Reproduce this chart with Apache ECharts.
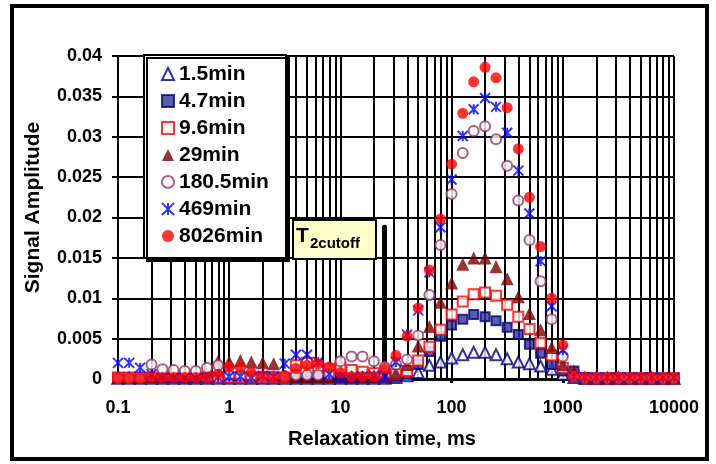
<!DOCTYPE html>
<html>
<head>
<meta charset="utf-8">
<script src="https://cdn.jsdelivr.net/npm/echarts@6/dist/echarts.min.js"></script>
<style>
  html, body { margin: 0; padding: 0; background: #fff; }
  #chart { width: 716px; height: 464px; }
</style>
</head>
<body>
<div id="chart"></div>
<script>
  // relaxation times, ms (10 points per decade)
  const relaxTimes = [
    0.1, 0.126, 0.158, 0.2, 0.251, 0.316, 0.398, 0.501, 0.631, 0.794,
    1, 1.26, 1.58, 2, 2.51, 3.16, 3.98, 5.01, 6.31, 7.94,
    10, 12.6, 15.8, 20, 25.1, 31.6, 39.8, 50.1, 63.1, 79.4,
    100, 126, 158, 200, 251, 316, 398, 501, 631, 794,
    1000, 1260, 1580, 2000, 2510, 3160, 3980, 5010, 6310, 7940, 10000,
  ]

  const amp1_5 = [
    0.0001, 0.0001, 0.0001, 0.0001, 0.0001, 0.0001, 0.0001, 0.0001, 0.0001, 0.0001,
    0.0001, 0.0001, 0.0001, 0.0001, 0.0001, 0.0001, 0.0001, 0.0001, 0.0001, 0.0001,
    0.0001, 0.0001, 0.0001, 0.0001, 0.0001, 0.0002, 0.0004, 0.0008, 0.0017, 0.0021,
    0.0026, 0.003, 0.0033, 0.0033, 0.003, 0.0025, 0.0021, 0.0019, 0.0016, 0.0012,
    0.0006, 0.0002, 0.0001, 0.0001, 0.0001, 0.0001, 0.0001, 0.0001, 0.0001, 0.0001, 0.0001,
  ]
  const amp4_7 = [
    0.0002, 0.0002, 0.0002, 0.0002, 0.0002, 0.0002, 0.0002, 0.0002, 0.0002, 0.0002,
    0.0002, 0.0002, 0.0002, 0.0002, 0.0002, 0.0002, 0.0002, 0.0002, 0.0002, 0.0002,
    0.0002, 0.0002, 0.0002, 0.0002, 0.0002, 0.0003, 0.0006, 0.0018, 0.0034, 0.0053,
    0.0067, 0.0074, 0.008, 0.0077, 0.0072, 0.0064, 0.0055, 0.0043, 0.0032, 0.0018,
    0.001, 0.001, 0.0002, 0.0001, 0.0001, 0.0001, 0.0001, 0.0001, 0.0001, 0.0001, 0.0001,
  ]
  const amp9_6 = [
    0.0002, 0.0002, 0.0002, 0.0002, 0.0002, 0.0002, 0.0002, 0.0002, 0.0002, 0.0002,
    0.0002, 0.0002, 0.0002, 0.0002, 0.0002, 0.0002, 0.0017, 0.002, 0.0016, 0.0012,
    0.0014, 0.0011, 0.0009, 0.0007, 0.0005, 0.0006, 0.001, 0.0023, 0.004, 0.0061,
    0.008, 0.0096, 0.0105, 0.0107, 0.0103, 0.0092, 0.0077, 0.0062, 0.0045, 0.0029,
    0.0014, 0.0004, 0.0001, 0.0001, 0.0001, 0.0001, 0.0001, 0.0001, 0.0001, 0.0001, 0.0001,
  ]
  const amp29 = [
    0.0002, 0.0002, 0.0002, 0.0003, 0.0003, 0.0003, 0.0003, 0.0003, 0.0008, 0.0022,
    0.0021, 0.0023, 0.0021, 0.002, 0.0019, 0.0004, 0.0003, 0.0003, 0.0003, 0.0003,
    0.0003, 0.0003, 0.0003, 0.0003, 0.0004, 0.0007, 0.0018, 0.0041, 0.0065, 0.0095,
    0.0119, 0.0142, 0.015, 0.015, 0.0139, 0.0124, 0.0102, 0.0081, 0.0061, 0.0039,
    0.0018, 0.001, 0.0001, 0.0001, 0.0001, 0.0001, 0.0001, 0.0001, 0.0001, 0.0001, 0.0001,
  ]
  const amp180_5 = [
    0.0001, 0.0001, 0.0001, 0.0018, 0.0012, 0.0011, 0.001, 0.001, 0.0014, 0.0017,
    0.0005, 0.0004, 0.0003, 0.0003, 0.0003, 0.0003, 0.0005, 0.0005, 0.0005, 0.0006,
    0.0022, 0.0028, 0.0028, 0.0022, 0.0015, 0.0018, 0.0024, 0.0054, 0.0104, 0.0166,
    0.0229, 0.028, 0.0307, 0.0313, 0.0297, 0.0264, 0.0221, 0.0172, 0.0121, 0.0074,
    0.0028, 0.0003, 0.0001, 0.0001, 0.0001, 0.0001, 0.0001, 0.0001, 0.0001, 0.0001, 0.0001,
  ]
  const amp469 = [
    0.002, 0.002, 0.0014, 0.0006, 0.0001, 0.0001, 0.0001, 0.0001, 0.0001, 0.0002,
    0.0003, 0.0003, 0.0002, 0.0004, 0.0003, 0.0019, 0.003, 0.003, 0.0021, 0.0006,
    0.0002, 0.0001, 0.0003, 0.0004, 0.0003, 0.0021, 0.0055, 0.0085, 0.0132, 0.0188,
    0.0247, 0.0301, 0.0334, 0.0348, 0.0337, 0.0305, 0.0258, 0.0205, 0.0146, 0.009,
    0.0036, 0.0003, 0.0002, 0.0002, 0.0002, 0.0002, 0.0002, 0.0002, 0.0002, 0.0002, 0.0002,
  ]
  const amp8026 = [
    0.0001, 0.0001, 0.0001, 0.0003, 0.0002, 0.0002, 0.0002, 0.0002, 0.0002, 0.0006,
    0.0015, 0.0014, 0.0008, 0.0004, 0.0002, 0.0004, 0.0013, 0.0017, 0.0019, 0.0015,
    0.0008, 0.0003, 0.0003, 0.0003, 0.0013, 0.0029, 0.0053, 0.0088, 0.0135, 0.0198,
    0.0266, 0.0329, 0.0368, 0.0386, 0.0373, 0.0336, 0.0285, 0.0225, 0.0164, 0.01,
    0.0042, 0.0003, 0.0002, 0.0002, 0.0002, 0.0002, 0.0002, 0.0002, 0.0002, 0.0002, 0.0002,
  ]

  const seriesNames = ['1.5min', '4.7min', '9.6min', '29min', '180.5min', '469min', '8026min']
  const xTickLabels = ['0.1', '1', '10', '100', '1000', '10000']
  // log grid lines between the decades
  const minorGridX = [
    0.2, 0.3, 0.4, 0.5, 0.6, 0.7, 0.8, 0.9,
    2, 3, 4, 5, 6, 7, 8, 9,
    20, 30, 40, 50, 60, 70, 80, 90,
    200, 300, 400, 500, 600, 700, 800, 900,
    2000, 3000, 4000, 5000, 6000, 7000, 8000, 9000,
  ]
  const t2Cutoff = 25
  const t2LineTop = 0.0188

  const FONT = 'Liberation Sans, Arial, sans-serif'
  const star = 'path://M0,0L10,10M10,0L0,10M5,0L5,10'

  const styles = [
    { symbol: 'triangle', symbolSize: 11, itemStyle: { color: '#ffffff', borderColor: '#000080', borderWidth: 2 } },
    { symbol: 'rect', symbolSize: 9, itemStyle: { color: '#333399', borderColor: '#000080', borderWidth: 2 } },
    { symbol: 'rect', symbolSize: 10, itemStyle: { color: '#ffffff', borderColor: '#ff0000', borderWidth: 2 } },
    { symbol: 'triangle', symbolSize: 13, itemStyle: { color: '#800000' } },
    { symbol: 'circle', symbolSize: 10, itemStyle: { color: '#ffffff', borderColor: '#993366', borderWidth: 2 } },
    { symbol: star, symbolSize: 10, itemStyle: { color: 'rgba(0,0,0,0)', borderColor: '#0000ff', borderWidth: 2 } },
    { symbol: 'circle', symbolSize: 11, itemStyle: { color: '#ff0000' } },
  ]
  const amps = [amp1_5, amp4_7, amp9_6, amp29, amp180_5, amp469, amp8026]

  const scatterSeries = seriesNames.map((name, k) => ({
    name: name,
    type: 'scatter',
    z: 3,
    symbol: styles[k].symbol,
    symbolSize: styles[k].symbolSize,
    itemStyle: styles[k].itemStyle,
    data: relaxTimes.map((t, i) => [t, amps[k][i]]),
  }))

  const chart = echarts.init(document.getElementById('chart'))
  chart.setOption({
    animation: false,
    backgroundColor: '#ffffff',
    grid: { left: 118, right: 42, top: 56, bottom: 85 },
    legend: {
      data: seriesNames,
      orient: 'vertical',
      left: 156,
      top: 58,
      itemWidth: 12,
      itemHeight: 12,
      itemGap: 5,
      textStyle: { fontFamily: FONT, fontWeight: 'bold', fontSize: 21, color: '#000', lineHeight: 22 },
      z: 22,
    },
    xAxis: {
      type: 'log',
      logBase: 10,
      min: 0.1,
      max: 10000,
      name: 'Relaxation time, ms',
      nameLocation: 'middle',
      nameGap: 50,
      nameTextStyle: { fontFamily: FONT, fontWeight: 'bold', fontSize: 20, color: '#000', padding: [0, 28, 0, 0] },
      axisLine: { lineStyle: { color: '#000', width: 3 } },
      axisTick: { show: true, length: 4, lineStyle: { color: '#000', width: 3 } },
      axisLabel: {
        margin: 20,
        fontFamily: FONT, fontWeight: 'bold', fontSize: 18, color: '#000',
        formatter: (v) => xTickLabels[Math.round(Math.log10(v)) + 1],
      },
      splitLine: { show: true, lineStyle: { color: '#000', width: 2 } },
    },
    yAxis: {
      type: 'value',
      min: 0,
      max: 0.04,
      interval: 0.005,
      name: 'Signal Amplitude',
      nameLocation: 'middle',
      nameRotate: 90,
      nameGap: 74,
      nameTextStyle: { fontFamily: FONT, fontWeight: 'bold', fontSize: 21, color: '#000', padding: [0, 0, 0, 20] },
      axisLine: { show: true, lineStyle: { color: '#000', width: 2 } },
      axisTick: { show: true, length: 6, lineStyle: { color: '#000', width: 2 } },
      axisLabel: { margin: 16, fontFamily: FONT, fontWeight: 'bold', fontSize: 18, color: '#000' },
      splitLine: { show: true, lineStyle: { color: '#000', width: 2 } },
    },
    graphic: [
      // legend frame with hard shadow
      {
        type: 'rect', z: 20,
        shape: { x: 144, y: 55, width: 142, height: 203 },
        style: { fill: '#fff', stroke: '#000', lineWidth: 2, shadowColor: '#000', shadowOffsetX: 3, shadowOffsetY: 3, shadowBlur: 0 },
      },
      // T2 cutoff label
      {
        type: 'rect', z: 20,
        shape: { x: 293, y: 220, width: 83, height: 39 },
        style: { fill: '#ffffcc', stroke: '#000', lineWidth: 2 },
      },
      { type: 'text', z: 21, x: 296, y: 226, style: { text: 'T', font: 'bold 21px ' + FONT, fill: '#000' } },
      { type: 'text', z: 21, x: 310, y: 236, style: { text: '2cutoff', font: 'bold 15px ' + FONT, fill: '#000' } },
      // outer frame
      {
        type: 'rect', z: 25,
        shape: { x: 12, y: 6, width: 695, height: 453 },
        style: { fill: 'none', stroke: '#000', lineWidth: 4 },
      },
    ],
    series: [
      {
        name: 'grid',
        type: 'line',
        data: [],
        z: 1,
        silent: true,
        markLine: {
          z: 1,
          silent: true,
          symbol: ['none', 'none'],
          label: { show: false },
          lineStyle: { color: '#000', width: 2, type: 'solid' },
          data: minorGridX.map((v) => ({ xAxis: v })),
        },
      },
      {
        name: 'T2cutoff',
        type: 'line',
        data: [],
        z: 2,
        silent: true,
        markLine: {
          z: 2,
          silent: true,
          symbol: ['none', 'none'],
          label: { show: false },
          lineStyle: { color: '#000', width: 5, type: 'solid', cap: 'round' },
          data: [[{ coord: [t2Cutoff, 0] }, { coord: [t2Cutoff, t2LineTop] }]],
        },
      },
      ...scatterSeries,
    ],
  })
</script>
</body>
</html>
